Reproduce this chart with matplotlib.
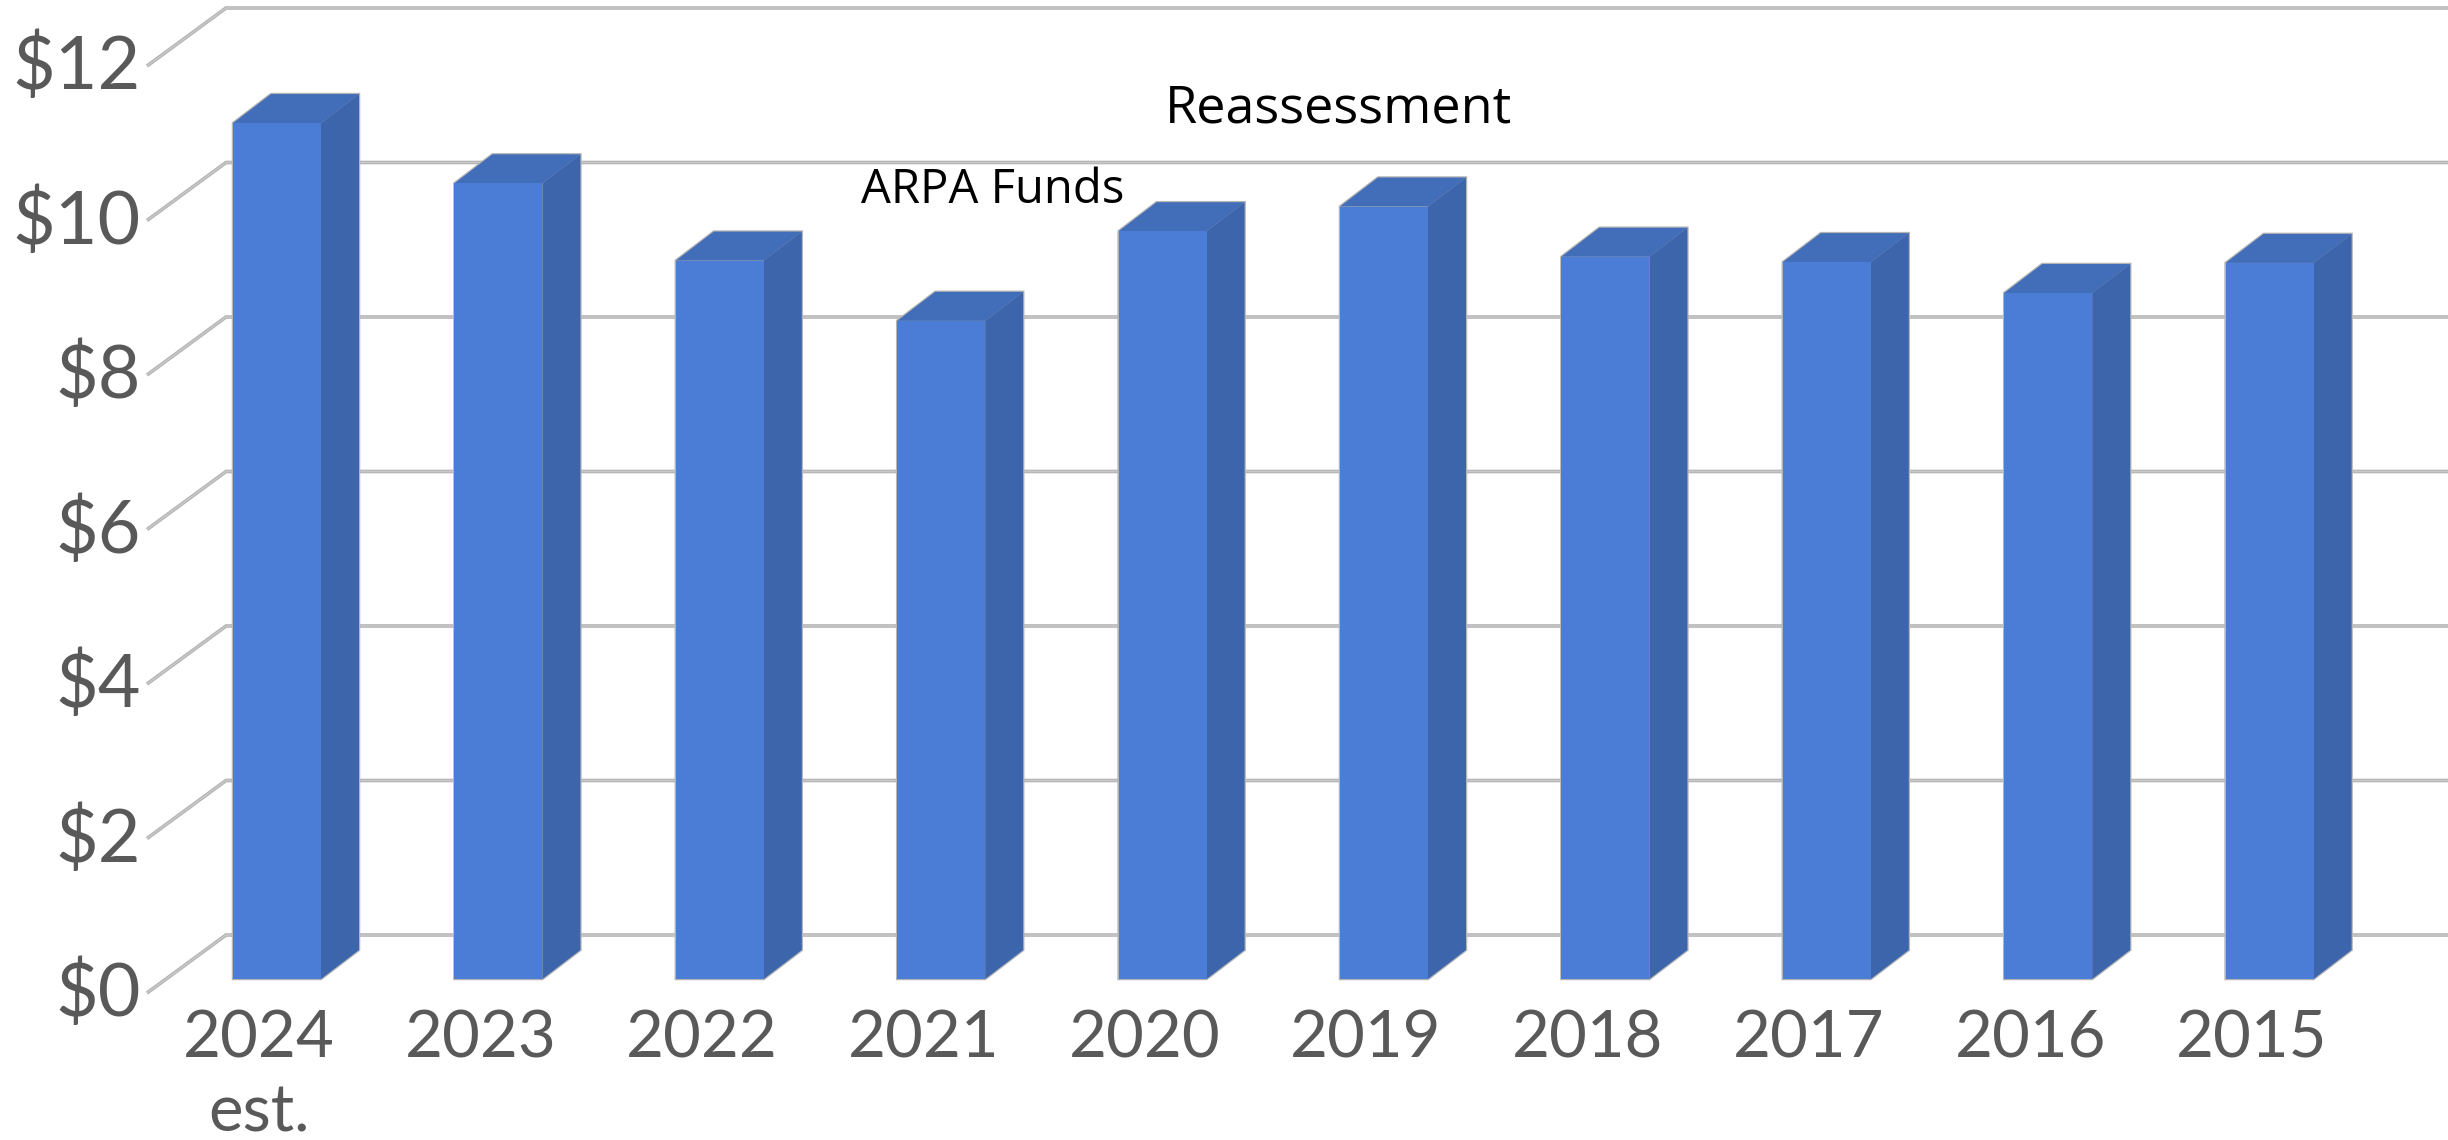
import matplotlib
matplotlib.use("Agg")
import matplotlib.pyplot as plt
from matplotlib.transforms import ScaledTranslation
from matplotlib.patches import Polygon

# ---- data ----
years = ["2024\nest.", "2023", "2022", "2021", "2020", "2019", "2018", "2017", "2016", "2015"]
values = [11.08, 10.30, 9.30, 8.52, 9.68, 10.00, 9.35, 9.28, 8.88, 9.27]
y_ticks = [0, 2, 4, 6, 8, 10, 12]
y_labels = ["$0", "$2", "$4", "$6", "$8", "$10", "$12"]
notes = ["Reassessment", "ARPA Funds"]

# ---- layout (pixels of a 2448x1140 figure) ----
W, H = 2448, 1140
DPI = 100
PX_X = 221.4           # px per category
PX_Y = 77.25           # px per dollar
X0 = 277               # px of the first category's centre
BASE = 979             # px of $0 at the front of the bars
LEFT = 147
px = 72 / DPI

bar_w = 88 / PX_X
bar_dx, bar_dy = 38 / PX_X, 29 / PX_Y
wall_dy = 44 / PX_Y
wall_x = (226 - X0) / PX_X
tick_x = (LEFT - X0) / PX_X
tick_dy = 58 / PX_Y

FRONT, TOP, SIDE = "#4b7dd7", "#416db9", "#3c65ab"
GRID_D, GRID_L = "#b2b2b2", "#c8c8c8"
TEXT = "#595959"
LABEL_FONT = ["Lato", "DejaVu Sans"]
NOTE_FONT = ["Open Sans", "DejaVu Sans"]

fig = plt.figure(figsize=(W / DPI, H / DPI), dpi=DPI, facecolor="white")
ax = fig.add_axes([LEFT / W, (H - BASE) / H, (W - LEFT) / W, BASE / H])
ax.set_xlim(tick_x, (W - X0) / PX_X)
ax.set_ylim(0, BASE / PX_Y)
for s in ax.spines.values():
    s.set_visible(False)
ax.set_facecolor("none")

# gridlines on the back wall with their slanted floor/side returns
for v in y_ticks:
    yb = v + wall_dy
    xs = [tick_x, wall_x, ax.get_xlim()[1]]
    ys = [yb - tick_dy, yb, yb]
    for c, lw in ((GRID_D, 3.6), (GRID_L, 1.5)):
        ax.plot(xs, ys, color=c, lw=lw * px, clip_on=False, zorder=1,
                solid_joinstyle="miter", solid_capstyle="butt")

# 3-D bars
positions = list(range(len(values)))
for x, v in zip(positions, values):
    l, r = x - bar_w / 2, x + bar_w / 2
    outline = [(l, 0), (l, v), (l + bar_dx, v + bar_dy), (r + bar_dx, v + bar_dy),
               (r + bar_dx, bar_dy), (r, 0)]
    ax.add_patch(Polygon(outline, closed=True, fc="#b5b5b5", ec="#b5b5b5",
                         lw=2.5 * px, zorder=2, clip_on=False))
    ax.add_patch(Polygon([(l, v), (l + bar_dx, v + bar_dy), (r + bar_dx, v + bar_dy), (r, v)],
                         closed=True, fc=TOP, ec="none", zorder=3))
    ax.add_patch(Polygon([(r, 0), (r, v), (r + bar_dx, v + bar_dy), (r + bar_dx, bar_dy)],
                         closed=True, fc=SIDE, ec="none", zorder=3))
ax.bar(positions, values, width=bar_w, color=FRONT, zorder=4, linewidth=0)

# axes labels
ax.set_yticks(y_ticks, y_labels)
ax.set_xticks(positions, years)
ax.tick_params(axis="both", length=0, colors=TEXT)
ax.tick_params(axis="y", pad=6 * px)
ax.tick_params(axis="x", pad=30 * px)
y_shift = ScaledTranslation(0, -9 * px / 72, fig.dpi_scale_trans)
x_shift = ScaledTranslation(-18 * px / 72, 0, fig.dpi_scale_trans)
for t in ax.get_yticklabels():
    t.set_fontsize(53)
    t.set_family(LABEL_FONT)
    t.set_transform(t.get_transform() + y_shift)
for t in ax.get_xticklabels():
    t.set_fontsize(47)
    t.set_family(LABEL_FONT)
    t.set_linespacing(1.32)
    t.set_transform(t.get_transform() + x_shift)

# annotations, placed in data units
def dx(p): return (p - X0) / PX_X
def dy(p): return (BASE - p) / PX_Y
ax.text(dx(1165), dy(122), notes[0], fontsize=37.5, color="black",
        family=NOTE_FONT, ha="left", va="baseline", zorder=5)
ax.text(dx(861), dy(203), notes[1], fontsize=34, color="black",
        family=NOTE_FONT, ha="left", va="baseline", zorder=5)

fig.savefig("out.png", dpi=DPI, facecolor="white")
